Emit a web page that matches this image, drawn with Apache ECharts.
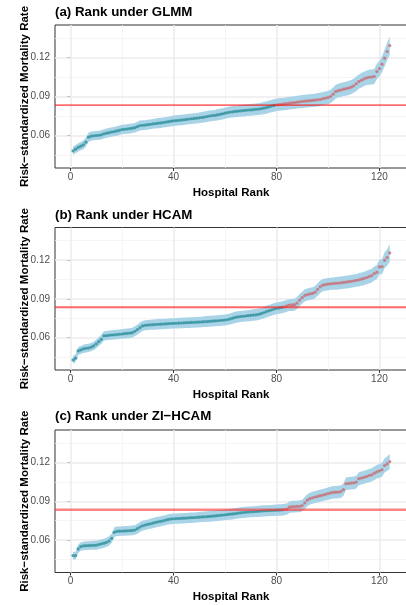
<!DOCTYPE html>
<html>
<head>
<meta charset="utf-8">
<script src="https://cdn.jsdelivr.net/npm/echarts@6.0.0/dist/echarts.min.js"></script>
<style>
html, body { margin: 0; padding: 0; background: #fff; }
#chart { width: 406px; height: 605px; }
</style>
</head>
<body>
<div id="chart"></div>
<script>
// Risk-standardized mortality rate per hospital, sorted by rank (1..124), under three models.
const panelTitles = ['(a) Rank under GLMM', '(b) Rank under HCAM', '(c) Rank under ZI\u2212HCAM'];
const yTitle = 'Risk\u2212standardized Mortality Rate';
const xTitle = 'Hospital Rank';
const xTickValues = [0, 40, 80, 120];
const yTickValues = [0.06, 0.09, 0.12];
const xMinorValues = [20, 60, 100];
const yMinorValues = [0.045, 0.075, 0.105, 0.135];
const nationalRate = 0.0834;

const glmmRate = [
  0.0482, 0.0495, 0.0508, 0.0518, 0.0528, 0.0549, 0.0587, 0.0595, 0.0598, 0.0600,
  0.0602, 0.0605, 0.0613, 0.0618, 0.0622, 0.0627, 0.0630, 0.0635, 0.0640, 0.0646,
  0.0648, 0.0650, 0.0653, 0.0656, 0.0660, 0.0668, 0.0677, 0.0679, 0.0680, 0.0683,
  0.0686, 0.0689, 0.0692, 0.0695, 0.0697, 0.0700, 0.0703, 0.0706, 0.0710, 0.0713,
  0.0715, 0.0717, 0.0719, 0.0721, 0.0724, 0.0727, 0.0729, 0.0731, 0.0733, 0.0736,
  0.0739, 0.0742, 0.0746, 0.0750, 0.0753, 0.0755, 0.0758, 0.0762, 0.0767, 0.0772,
  0.0776, 0.0780, 0.0782, 0.0785, 0.0787, 0.0790, 0.0792, 0.0794, 0.0796, 0.0797,
  0.0799, 0.0801, 0.0803, 0.0806, 0.0810, 0.0815, 0.0820, 0.0826, 0.0831, 0.0836,
  0.0838, 0.0840, 0.0843, 0.0846, 0.0849, 0.0851, 0.0853, 0.0856, 0.0859, 0.0862,
  0.0864, 0.0866, 0.0868, 0.0870, 0.0872, 0.0875, 0.0878, 0.0883, 0.0888, 0.0892,
  0.0900, 0.0918, 0.0938, 0.0945, 0.0950, 0.0956, 0.0960, 0.0965, 0.0972, 0.0982,
  0.0998, 0.1015, 0.1025, 0.1035, 0.1044, 0.1048, 0.1050, 0.1054, 0.1092, 0.1115,
  0.1149, 0.1195, 0.1246, 0.1292
];
const glmmHalf = [
  0.0031, 0.0031, 0.0032, 0.0032, 0.0033, 0.0034, 0.0035, 0.0035, 0.0035, 0.0035,
  0.0035, 0.0035, 0.0036, 0.0036, 0.0036, 0.0036, 0.0036, 0.0036, 0.0037, 0.0037,
  0.0037, 0.0037, 0.0037, 0.0037, 0.0037, 0.0038, 0.0038, 0.0038, 0.0038, 0.0038,
  0.0038, 0.0038, 0.0039, 0.0039, 0.0039, 0.0039, 0.0039, 0.0039, 0.0040, 0.0040,
  0.0040, 0.0040, 0.0040, 0.0040, 0.0040, 0.0041, 0.0041, 0.0041, 0.0041, 0.0041,
  0.0041, 0.0042, 0.0042, 0.0042, 0.0042, 0.0042, 0.0043, 0.0043, 0.0043, 0.0043,
  0.0043, 0.0044, 0.0044, 0.0044, 0.0044, 0.0045, 0.0045, 0.0045, 0.0045, 0.0045,
  0.0046, 0.0046, 0.0046, 0.0046, 0.0047, 0.0047, 0.0047, 0.0048, 0.0048, 0.0048,
  0.0048, 0.0048, 0.0048, 0.0049, 0.0049, 0.0049, 0.0049, 0.0049, 0.0049, 0.0050,
  0.0050, 0.0050, 0.0050, 0.0050, 0.0050, 0.0051, 0.0051, 0.0051, 0.0051, 0.0051,
  0.0052, 0.0052, 0.0053, 0.0053, 0.0053, 0.0053, 0.0054, 0.0054, 0.0054, 0.0054,
  0.0055, 0.0055, 0.0056, 0.0056, 0.0056, 0.0057, 0.0057, 0.0057, 0.0059, 0.0060,
  0.0062, 0.0064, 0.0067, 0.0070
];

const hcamRate = [
  0.0428, 0.0441, 0.0497, 0.0505, 0.0513, 0.0518, 0.0520, 0.0526, 0.0536, 0.0551,
  0.0569, 0.0587, 0.0613, 0.0615, 0.0618, 0.0620, 0.0622, 0.0624, 0.0626, 0.0628,
  0.0631, 0.0633, 0.0635, 0.0638, 0.0649, 0.0662, 0.0677, 0.0690, 0.0695, 0.0697,
  0.0699, 0.0700, 0.0701, 0.0703, 0.0704, 0.0705, 0.0706, 0.0708, 0.0709, 0.0710,
  0.0711, 0.0712, 0.0713, 0.0714, 0.0715, 0.0716, 0.0717, 0.0718, 0.0719, 0.0720,
  0.0721, 0.0723, 0.0724, 0.0726, 0.0727, 0.0729, 0.0730, 0.0732, 0.0734, 0.0736,
  0.0740, 0.0744, 0.0750, 0.0756, 0.0760, 0.0763, 0.0765, 0.0767, 0.0769, 0.0772,
  0.0774, 0.0776, 0.0780, 0.0785, 0.0792, 0.0800, 0.0807, 0.0813, 0.0820, 0.0826,
  0.0829, 0.0833, 0.0838, 0.0845, 0.0851, 0.0852, 0.0854, 0.0867, 0.0890, 0.0908,
  0.0926, 0.0933, 0.0937, 0.0941, 0.0951, 0.0972, 0.0992, 0.1005, 0.1009, 0.1013,
  0.1015, 0.1017, 0.1019, 0.1021, 0.1023, 0.1026, 0.1029, 0.1032, 0.1035, 0.1038,
  0.1042, 0.1046, 0.1051, 0.1057, 0.1064, 0.1071, 0.1079, 0.1095, 0.1105, 0.1146,
  0.1148, 0.1197, 0.1218, 0.1254
];
const hcamHalf = [
  0.0030, 0.0030, 0.0031, 0.0031, 0.0031, 0.0032, 0.0032, 0.0032, 0.0033, 0.0033,
  0.0034, 0.0035, 0.0036, 0.0036, 0.0036, 0.0036, 0.0037, 0.0037, 0.0037, 0.0037,
  0.0037, 0.0037, 0.0038, 0.0038, 0.0038, 0.0038, 0.0039, 0.0039, 0.0039, 0.0039,
  0.0039, 0.0039, 0.0040, 0.0040, 0.0040, 0.0040, 0.0040, 0.0040, 0.0040, 0.0040,
  0.0040, 0.0041, 0.0041, 0.0041, 0.0041, 0.0041, 0.0041, 0.0041, 0.0041, 0.0041,
  0.0041, 0.0041, 0.0042, 0.0042, 0.0042, 0.0042, 0.0042, 0.0042, 0.0042, 0.0042,
  0.0042, 0.0043, 0.0043, 0.0043, 0.0043, 0.0043, 0.0043, 0.0043, 0.0044, 0.0044,
  0.0044, 0.0044, 0.0044, 0.0044, 0.0044, 0.0045, 0.0045, 0.0045, 0.0045, 0.0045,
  0.0045, 0.0045, 0.0046, 0.0046, 0.0046, 0.0046, 0.0046, 0.0046, 0.0047, 0.0047,
  0.0047, 0.0047, 0.0047, 0.0047, 0.0047, 0.0048, 0.0048, 0.0048, 0.0048, 0.0048,
  0.0048, 0.0048, 0.0049, 0.0049, 0.0049, 0.0049, 0.0049, 0.0050, 0.0050, 0.0050,
  0.0050, 0.0051, 0.0051, 0.0052, 0.0052, 0.0053, 0.0053, 0.0054, 0.0055, 0.0057,
  0.0058, 0.0061, 0.0064, 0.0068
];

const zihcamRate = [
  0.0481, 0.0481, 0.0532, 0.0550, 0.0555, 0.0557, 0.0558, 0.0559, 0.0560, 0.0561,
  0.0566, 0.0571, 0.0576, 0.0583, 0.0594, 0.0614, 0.0660, 0.0668, 0.0669, 0.0670,
  0.0671, 0.0672, 0.0673, 0.0675, 0.0678, 0.0688, 0.0701, 0.0711, 0.0716, 0.0721,
  0.0726, 0.0731, 0.0737, 0.0741, 0.0745, 0.0749, 0.0755, 0.0760, 0.0763, 0.0765,
  0.0766, 0.0767, 0.0768, 0.0769, 0.0770, 0.0772, 0.0773, 0.0774, 0.0776, 0.0777,
  0.0779, 0.0780, 0.0782, 0.0783, 0.0785, 0.0787, 0.0789, 0.0791, 0.0793, 0.0795,
  0.0798, 0.0800, 0.0802, 0.0805, 0.0808, 0.0811, 0.0813, 0.0815, 0.0817, 0.0818,
  0.0819, 0.0821, 0.0822, 0.0824, 0.0826, 0.0827, 0.0828, 0.0829, 0.0830, 0.0831,
  0.0832, 0.0833, 0.0836, 0.0839, 0.0854, 0.0858, 0.0859, 0.0860, 0.0861, 0.0867,
  0.0887, 0.0908, 0.0920, 0.0927, 0.0933, 0.0938, 0.0943, 0.0948, 0.0953, 0.0959,
  0.0964, 0.0969, 0.0970, 0.0971, 0.0975, 0.0989, 0.1035, 0.1038, 0.1040, 0.1042,
  0.1048, 0.1074, 0.1079, 0.1085, 0.1091, 0.1098, 0.1104, 0.1117, 0.1127, 0.1135,
  0.1143, 0.1176, 0.1189, 0.1206
];
const zihcamHalf = [
  0.0030, 0.0030, 0.0032, 0.0033, 0.0033, 0.0034, 0.0034, 0.0034, 0.0035, 0.0035,
  0.0035, 0.0035, 0.0035, 0.0036, 0.0036, 0.0036, 0.0037, 0.0037, 0.0037, 0.0037,
  0.0037, 0.0037, 0.0037, 0.0037, 0.0037, 0.0038, 0.0038, 0.0038, 0.0038, 0.0038,
  0.0038, 0.0039, 0.0039, 0.0039, 0.0039, 0.0039, 0.0039, 0.0040, 0.0040, 0.0040,
  0.0040, 0.0040, 0.0040, 0.0040, 0.0040, 0.0040, 0.0040, 0.0040, 0.0040, 0.0040,
  0.0040, 0.0041, 0.0041, 0.0041, 0.0041, 0.0041, 0.0041, 0.0041, 0.0041, 0.0041,
  0.0041, 0.0042, 0.0042, 0.0042, 0.0042, 0.0042, 0.0042, 0.0042, 0.0042, 0.0042,
  0.0043, 0.0043, 0.0043, 0.0043, 0.0043, 0.0043, 0.0043, 0.0043, 0.0043, 0.0043,
  0.0044, 0.0044, 0.0044, 0.0044, 0.0045, 0.0045, 0.0045, 0.0045, 0.0045, 0.0045,
  0.0046, 0.0046, 0.0046, 0.0046, 0.0047, 0.0047, 0.0047, 0.0047, 0.0047, 0.0047,
  0.0048, 0.0048, 0.0048, 0.0048, 0.0048, 0.0048, 0.0049, 0.0049, 0.0049, 0.0049,
  0.0049, 0.0050, 0.0050, 0.0050, 0.0050, 0.0051, 0.0051, 0.0052, 0.0052, 0.0053,
  0.0054, 0.0055, 0.0056, 0.0058
];

const rates = [glmmRate, hcamRate, zihcamRate];
const halves = [glmmHalf, hcamHalf, zihcamHalf];
const ranks = glmmRate.map((_, k) => k + 1);

// styling and layout
const FONT = '"Liberation Sans", Arial, Helvetica, sans-serif';
const TEAL = '#2b8e99';
const ROSE = '#cb6a72';
const BAND = '#a9d4e8';
const GRID_MAJOR = '#ebebeb';
const GRID_MINOR = '#f2f2f2';
const gridTops = [25, 227.5, 430];
const gridHeights = [143, 142.5, 142.5];
const titleTops = [4.7, 207, 408];
const refLineStyles = [
  { color: 'rgb(255,0,0)', width: 1, opacity: 1 },
  { color: 'rgb(255,40,40)', width: 2, opacity: 0.7 },
  { color: 'rgb(255,50,50)', width: 2.4, opacity: 0.6 }
];

const grids = [], xAxes = [], yAxes = [], titles = [], series = [];

rates.forEach((rate, i) => {
  const half = halves[i];
  grids.push({
    left: 55, top: gridTops[i], width: 352, height: gridHeights[i],
    show: true, borderColor: '#333', borderWidth: 1, backgroundColor: '#fff',
    outerBoundsMode: 'none', containLabel: false
  });
  titles.push({
    text: panelTitles[i], left: 55, top: titleTops[i], padding: 0,
    textStyle: { fontFamily: FONT, fontSize: 13.3, fontWeight: 'bold', color: '#000', lineHeight: 16 }
  });
  xAxes.push({
    gridIndex: i, type: 'value', min: -6, max: 130.7,
    axisLine: { show: false },
    axisTick: { show: true, customValues: xTickValues, length: 3, lineStyle: { color: '#333', width: 1 } },
    axisLabel: { customValues: xTickValues, color: '#4d4d4d', fontSize: 10, fontFamily: FONT, margin: 4 },
    splitLine: { show: false },
    name: xTitle, nameLocation: 'middle', nameGap: 18.5, nameMoveOverlap: false,
    nameTextStyle: { fontFamily: FONT, fontSize: 11.5, fontWeight: 'bold', color: '#000' }
  });
  yAxes.push({
    gridIndex: i, type: 'value', min: 0.035, max: 0.145,
    axisLine: { show: false },
    axisTick: { show: true, customValues: yTickValues, length: 3, lineStyle: { color: '#333', width: 1 } },
    axisLabel: {
      customValues: yTickValues, color: '#4d4d4d', fontSize: 10, fontFamily: FONT, margin: 5,
      formatter: v => v.toFixed(2)
    },
    splitLine: { show: false },
    name: yTitle, nameLocation: 'middle', nameGap: 24.5, nameRotate: 90, nameMoveOverlap: false,
    nameTextStyle: { fontFamily: FONT, fontSize: 11.5, fontWeight: 'bold', color: '#000' }
  });

  // panel grid lines (minor thinner than major)
  const gridLines = [];
  xMinorValues.forEach(v => gridLines.push({ xAxis: v, lineStyle: { color: GRID_MINOR, width: 0.8, type: 'solid' } }));
  yMinorValues.forEach(v => gridLines.push({ yAxis: v, lineStyle: { color: GRID_MINOR, width: 0.8, type: 'solid' } }));
  xTickValues.forEach(v => gridLines.push({ xAxis: v, lineStyle: { color: GRID_MAJOR, width: 1.5, type: 'solid' } }));
  yTickValues.forEach(v => gridLines.push({ yAxis: v, lineStyle: { color: GRID_MAJOR, width: 1.5, type: 'solid' } }));

  // interval band: one polygon along the upper limits and back along the lower limits
  series.push({
    type: 'custom', xAxisIndex: i, yAxisIndex: i, z: 2, silent: true,
    data: ranks.map((r, k) => [r, rate[k] - half[k], rate[k] + half[k]]),
    encode: { x: 0, y: [1, 2] },
    renderItem: function (params, api) {
      if (params.dataIndex !== 0) return null;
      const pts = [];
      for (let k = 0; k < ranks.length; k++) pts.push(api.coord([ranks[k], rate[k] + half[k]]));
      for (let k = ranks.length - 1; k >= 0; k--) pts.push(api.coord([ranks[k], rate[k] - half[k]]));
      return { type: 'polygon', shape: { points: pts }, style: { fill: BAND, stroke: null } };
    },
    markLine: { silent: true, symbol: 'none', z: 1, precision: 4, label: { show: false }, animation: false, data: gridLines }
  });
  // hospital estimates, coloured by position relative to the national rate
  series.push({
    type: 'scatter', xAxisIndex: i, yAxisIndex: i, z: 3, silent: true,
    symbol: 'circle', symbolSize: 3.2,
    data: ranks.map((r, k) => ({
      value: [r, rate[k]],
      itemStyle: { color: rate[k] > nationalRate ? ROSE : TEAL }
    }))
  });
  // national reference rate
  series.push({
    type: 'line', xAxisIndex: i, yAxisIndex: i, z: 10, silent: true,
    symbol: 'none', lineStyle: Object.assign({ type: 'solid' }, refLineStyles[i]),
    data: [[-6, nationalRate], [130.7, nationalRate]]
  });
});

const chart = echarts.init(document.getElementById('chart'), null, { renderer: 'canvas' });
chart.setOption({
  animation: false,
  backgroundColor: '#fff',
  textStyle: { fontFamily: FONT },
  title: titles,
  grid: grids,
  xAxis: xAxes,
  yAxis: yAxes,
  series: series
});
</script>
</body>
</html>
